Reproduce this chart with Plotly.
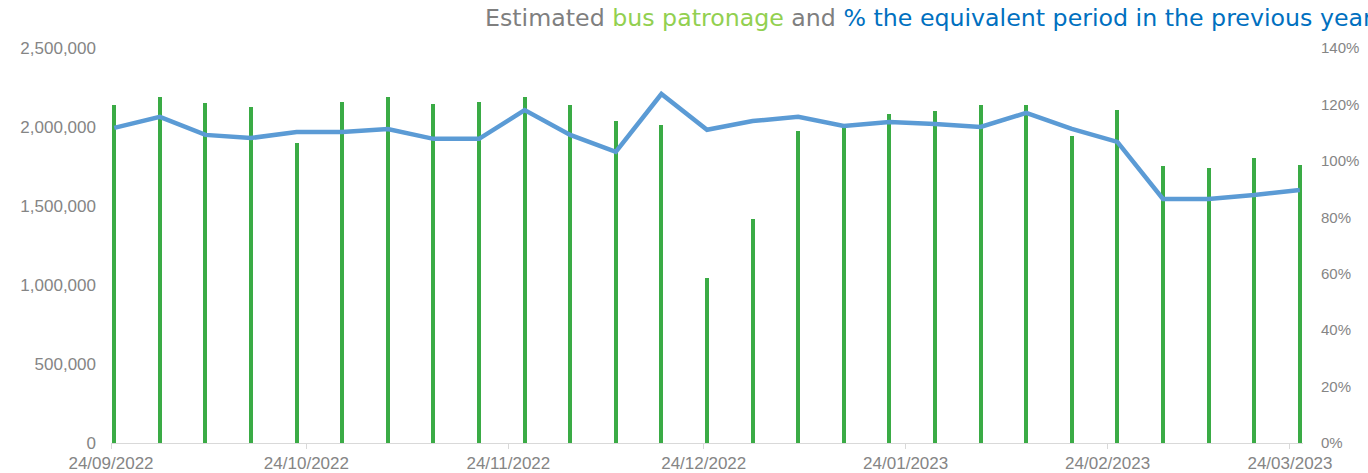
import plotly.graph_objects as go
import pandas as pd

# Week-ending dates (weekly from 24/09/2022)
dates = pd.date_range("2022-09-24", periods=27, freq="7D")

# Estimated bus patronage (left axis)
patronage = [2139000, 2190000, 2152000, 2127000, 1899000, 2158000, 2190000, 2146000, 2158000,
             2190000, 2139000, 2038000, 2013000, 1044000, 1418000, 1975000, 2013000, 2082000,
             2101000, 2139000, 2139000, 1943000, 2108000, 1753000, 1741000, 1804000, 1759000]

# % of equivalent period in previous year (right axis)
pct_prev_year = [1.117, 1.156, 1.092, 1.081, 1.102, 1.102, 1.113, 1.078, 1.078,
                 1.180, 1.092, 1.032, 1.237, 1.110, 1.141, 1.156, 1.124, 1.138,
                 1.131, 1.120, 1.170, 1.113, 1.067, 0.865, 0.865, 0.879, 0.897]

tick_dates = ["2022-09-24", "2022-10-24", "2022-11-24", "2022-12-24",
              "2023-01-24", "2023-02-24", "2023-03-24"]
tick_labels = ["24/09/2022", "24/10/2022", "24/11/2022", "24/12/2022",
               "24/01/2023", "24/02/2023", "24/03/2023"]

x_mid = dates + pd.Timedelta(hours=12)
DAY_MS = 86400000

fig = go.Figure()
fig.add_trace(go.Bar(
    x=x_mid, y=patronage, width=[0.62 * DAY_MS] * len(patronage),
    marker=dict(color="#3aab45", line=dict(width=0)),
    name="Estimated bus patronage", yaxis="y",
))
fig.add_trace(go.Scatter(
    x=x_mid, y=pct_prev_year, mode="lines",
    line=dict(color="#5b9bd5", width=4.5),
    name="% of equivalent period in previous year", yaxis="y2",
))

tick_font = dict(family="Liberation Sans, Arial, sans-serif", size=17, color="#858585")

fig.update_layout(
    width=1368, height=473,
    margin=dict(l=111, r=65, t=48, b=30, autoexpand=False),
    paper_bgcolor="white", plot_bgcolor="white",
    showlegend=False,
    bargap=0,
    xaxis=dict(
        type="date",
        range=["2022-09-24", "2023-03-26"],
        tickvals=tick_dates, ticktext=tick_labels,
        showgrid=False, zeroline=False,
        showline=True, linecolor="#d9d9d9", linewidth=1,
        ticks="outside", ticklen=5, tickcolor="#d9d9d9",
        tickfont=tick_font,
    ),
    yaxis=dict(
        range=[0, 2500000], dtick=500000, tickformat=",",
        showgrid=False, zeroline=False, showline=False,
        tickfont=tick_font, ticklabelstandoff=14,
    ),
    yaxis2=dict(
        range=[0, 1.4], dtick=0.2, tickformat=".0%",
        overlaying="y", side="right",
        showgrid=False, zeroline=False, showline=False,
        tickfont=dict(family="Liberation Sans, Arial, sans-serif", size=15, color="#858585"),
        ticklabelstandoff=17,
    ),
    annotations=[dict(
        xref="paper", yref="paper", x=(483 - 111) / 1192, y=1 + (48 - 18) / 395,
        xanchor="left", yanchor="middle", showarrow=False,
        text=("<span style='color:#7f7f7f'>Estimated </span>"
              "<span style='color:#92d050'>bus patronage</span>"
              "<span style='color:#7f7f7f'> and </span>"
              "<span style='color:#0070c0'>% the equivalent period in the previous year</span>"),
        font=dict(family="DejaVu Sans, sans-serif", size=23.7),
    )],
)

fig.write_html("out.html", config={"displayModeBar": False},
               post_script="document.body.style.margin='0';document.body.style.overflow='hidden';")
